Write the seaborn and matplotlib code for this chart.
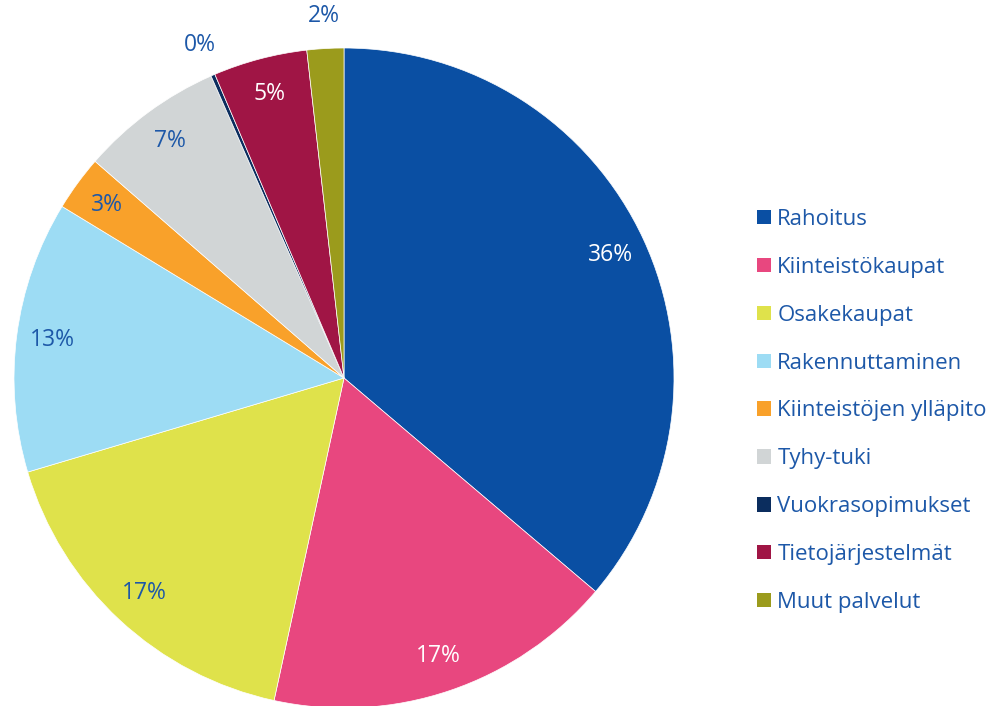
import numpy as np
import matplotlib
matplotlib.use("Agg")
import matplotlib.pyplot as plt
import matplotlib.patches as mpatches
import seaborn as sns

# data
categories = ["Rahoitus", "Kiinteistökaupat", "Osakekaupat", "Rakennuttaminen",
              "Kiinteistöjen ylläpito", "Tyhy-tuki", "Vuokrasopimukset",
              "Tietojärjestelmät", "Muut palvelut"]
shares = [36.2, 17.2, 17.0, 13.3, 2.7, 7.0, 0.2, 4.6, 1.8]
pct_labels = ["36%", "17%", "17%", "13%", "3%", "7%", "0%", "5%", "2%"]
colors = ["#0a4fa3", "#e8477f", "#dfe24b", "#9ddcf4", "#f9a12a",
          "#d1d5d6", "#0b2d5e", "#a01545", "#9b9b1c"]
light_text = [True, True, False, False, False, False, False, True, False]
outside = [False, False, False, False, False, False, True, False, True]

sns.set_theme(style="white")
plt.rcParams['font.family'] = ['Open Sans', 'DejaVu Sans']
txt_color = "#1d58a8"

fig = plt.figure(figsize=(9.94, 7.06), dpi=100)
ax = fig.add_axes([14 / 994, -2 / 706, 660 / 994, 660 / 706])

wedges, _ = ax.pie(shares, colors=sns.color_palette(colors), startangle=90,
                   counterclock=False, radius=1.0,
                   wedgeprops=dict(edgecolor="white", linewidth=0.5))
ax.set_xlim(-1, 1)
ax.set_ylim(-1, 1)
ax.axis("off")

# percentage labels
for w, lab, lt, out in zip(wedges, pct_labels, light_text, outside):
    mid = np.deg2rad((w.theta1 + w.theta2) / 2)
    r = 1.1 if out else 0.89
    c = "white" if lt else txt_color
    ax.text(r * np.cos(mid), r * np.sin(mid), lab, ha="center", va="center",
            fontsize=16.5, color=c)

handles = [mpatches.Patch(facecolor=c, edgecolor="none") for c in colors]
leg = fig.legend(handles, categories, loc="upper left",
                 bbox_to_anchor=(748 / 994, 1 - 200 / 706), frameon=False,
                 fontsize=16, handlelength=0.62, handleheight=0.62,
                 handletextpad=0.3, labelspacing=1.21, borderaxespad=0)
for t in leg.get_texts():
    t.set_color(txt_color)

fig.savefig("out.png", dpi=100)
